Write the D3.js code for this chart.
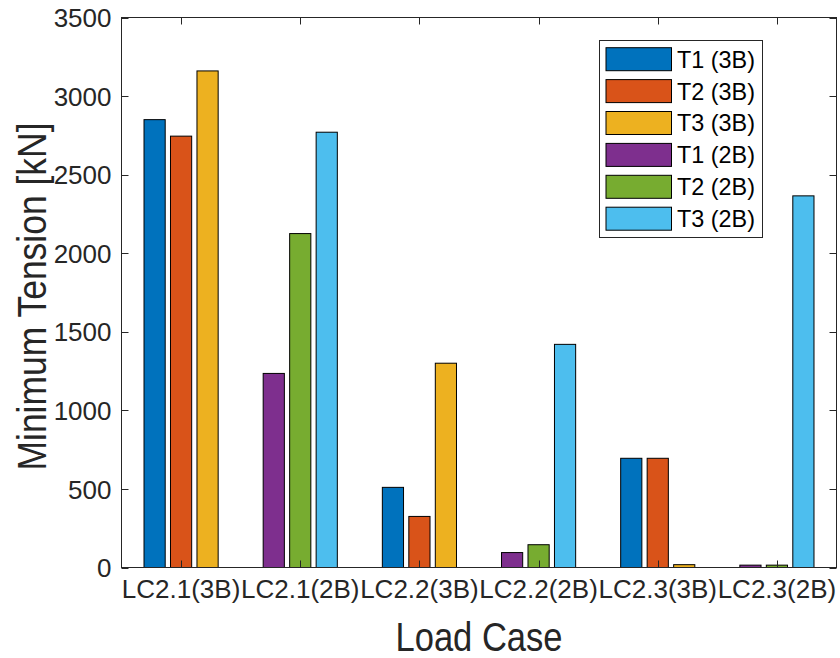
<!DOCTYPE html>
<html>
<head>
<meta charset="utf-8">
<script src="https://cdn.jsdelivr.net/npm/d3@7/dist/d3.min.js"></script>
<style>
  html, body { margin: 0; padding: 0; background: #fff; }
  svg { display: block; font-family: "Liberation Sans", Arial, Helvetica, sans-serif; }
</style>
</head>
<body>
<svg id="chart" width="840" height="658"></svg>
<script>
// Load cases along the x axis
const categories = ["LC2.1(3B)", "LC2.1(2B)", "LC2.2(3B)", "LC2.2(2B)", "LC2.3(3B)", "LC2.3(2B)"];

// Minimum tension per line [kN]; 0 where a line does not exist in that configuration
const seriesNames = ["T1 (3B)", "T2 (3B)", "T3 (3B)", "T1 (2B)", "T2 (2B)", "T3 (2B)"];
const t1_3B = [2850, 0, 510, 0, 695, 0];
const t2_3B = [2745, 0, 325, 0, 695, 0];
const t3_3B = [3160, 0, 1300, 0, 18, 0];
const t1_2B = [0, 1235, 0, 95, 0, 15];
const t2_2B = [0, 2125, 0, 145, 0, 15];
const t3_2B = [0, 2770, 0, 1420, 0, 2365];
const seriesValues = [t1_3B, t2_3B, t3_3B, t1_2B, t2_2B, t3_2B];
const colors = ["#0072BD", "#D95319", "#EDB120", "#7E2F8E", "#77AC30", "#4DBEEE"];

const yTicks = [0, 500, 1000, 1500, 2000, 2500, 3000, 3500];

const svg = d3.select("#chart");
const plotL = 121.5, plotR = 836.5, plotT = 17.5, plotB = 567.5;
const axisColor = "#262626";

// Category axis: each load case occupies one unit, plot limits are half a unit outside
const x = d3.scaleLinear().domain([0.5, categories.length + 0.5]).range([plotL, plotR]);
const y = d3.scaleLinear().domain([0, 3500]).range([plotB, plotT]);

// Three bar slots per load case (T1, T2, T3); the 3B and 2B sets share the slots
const groupWidth = 3 / (3 + 1.5);
const slot = groupWidth / 3;
const barW = (x(1 + slot * 0.8) - x(1));

const bars = [];
seriesValues.forEach((vals, si) => {
  vals.forEach((v, ci) => {
    if (v > 0) bars.push({ si, ci, v, pos: ci + 1 + (si % 3 - 1) * slot });
  });
});

svg.append("g").selectAll("rect").data(bars).join("rect")
  .attr("x", d => x(d.pos) - barW / 2)
  .attr("y", d => y(d.v))
  .attr("width", barW)
  .attr("height", d => y(0) - y(d.v))
  .attr("fill", d => colors[d.si])
  .attr("stroke", "#000")
  .attr("stroke-width", 1);

// Axes box with inward ticks on all four sides
const tickLen = 7;
const ax = svg.append("g").attr("stroke", axisColor).attr("stroke-width", 1).attr("fill", "none");
ax.append("rect").attr("x", plotL).attr("y", plotT).attr("width", plotR - plotL).attr("height", plotB - plotT);

const catPos = categories.map((c, i) => i + 1);
ax.selectAll("line.xb").data(catPos).join("line").attr("class", "xb")
  .attr("x1", d => Math.round(x(d)) + 0.5).attr("x2", d => Math.round(x(d)) + 0.5)
  .attr("y1", plotB).attr("y2", plotB - tickLen);
ax.selectAll("line.xt").data(catPos).join("line").attr("class", "xt")
  .attr("x1", d => Math.round(x(d)) + 0.5).attr("x2", d => Math.round(x(d)) + 0.5)
  .attr("y1", plotT).attr("y2", plotT + tickLen);
ax.selectAll("line.yl").data(yTicks).join("line").attr("class", "yl")
  .attr("x1", plotL).attr("x2", plotL + tickLen)
  .attr("y1", d => Math.round(y(d)) + 0.5).attr("y2", d => Math.round(y(d)) + 0.5);
ax.selectAll("line.yr").data(yTicks).join("line").attr("class", "yr")
  .attr("x1", plotR).attr("x2", plotR - tickLen)
  .attr("y1", d => Math.round(y(d)) + 0.5).attr("y2", d => Math.round(y(d)) + 0.5);

// Tick labels
const tickFont = 26;
svg.append("g").selectAll("text").data(yTicks).join("text")
  .attr("x", plotL - 10).attr("y", d => y(d)).attr("dy", "0.37em")
  .attr("text-anchor", "end").attr("font-size", tickFont).attr("fill", axisColor)
  .text(d => d);
svg.append("g").selectAll("text").data(categories).join("text")
  .attr("x", (d, i) => x(i + 1)).attr("y", 598)
  .attr("text-anchor", "middle").attr("font-size", tickFont).attr("fill", axisColor)
  .text(d => d);

// Axis titles (tall, slightly condensed lettering)
svg.append("text")
  .attr("x", (plotL + plotR) / 2).attr("y", 651)
  .attr("text-anchor", "middle").attr("font-size", 40).attr("fill", axisColor)
  .attr("textLength", 167).attr("lengthAdjust", "spacingAndGlyphs")
  .text("Load Case");
svg.append("text")
  .attr("transform", `translate(46,${(plotT + plotB) / 2 + 4}) rotate(-90)`)
  .attr("text-anchor", "middle").attr("font-size", 40).attr("fill", axisColor)
  .attr("textLength", 348).attr("lengthAdjust", "spacingAndGlyphs")
  .text("Minimum Tension [kN]");

// Legend
const lg = svg.append("g");
lg.append("rect").attr("x", 599.5).attr("y", 40.5).attr("width", 163).attr("height", 197)
  .attr("fill", "#fff").attr("stroke", axisColor).attr("stroke-width", 1);
const rowStep = 31.9, row0 = 59.2;
seriesNames.forEach((name, i) => {
  const cy = row0 + i * rowStep;
  lg.append("rect").attr("x", 606).attr("y", cy - 11.5).attr("width", 65.5).attr("height", 23)
    .attr("fill", colors[i]).attr("stroke", "#000").attr("stroke-width", 1);
  lg.append("text").attr("x", 677).attr("y", cy).attr("dy", "0.36em")
    .attr("font-size", 23.4).attr("fill", "#000").text(name);
});
</script>
</body>
</html>
